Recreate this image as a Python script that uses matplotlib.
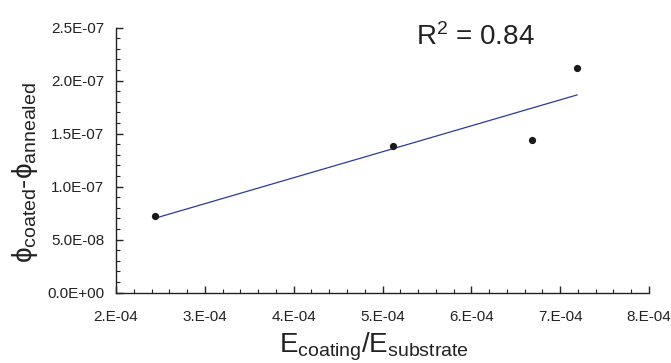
import numpy as np
import matplotlib
matplotlib.use("Agg")
import matplotlib.pyplot as plt
from matplotlib.ticker import MultipleLocator, FuncFormatter

plt.rcParams['font.family'] = ['Liberation Sans', 'DejaVu Sans']
plt.rcParams['mathtext.fontset'] = 'custom'
plt.rcParams['mathtext.rm'] = 'Liberation Sans'
plt.rcParams['mathtext.it'] = 'Liberation Sans'

# modulus ratio vs. loss angle difference
e_ratio = [2.44e-4, 5.12e-4, 6.68e-4, 7.19e-4]
phi_diff = [7.24e-8, 1.384e-7, 1.44e-7, 2.12e-7]
r2_text = "0.84"

x = np.array(e_ratio)
y = np.array(phi_diff)
slope, icept = np.polyfit(x, y, 1)

fig = plt.figure(figsize=(6.71, 3.63), dpi=100)
ax = fig.add_axes([0.1729, 0.1937, 0.7943, 0.73])

ax.plot(x, slope * x + icept, color="#2e3a9c", lw=0.9)
ax.plot(x, y, "o", color="#1a1a1a", ms=4.2)

ax.set_xlim(2e-4, 8e-4)
ax.set_ylim(0, 2.5e-7)
ax.xaxis.set_major_locator(MultipleLocator(1e-4))
ax.xaxis.set_minor_locator(MultipleLocator(2e-5))
ax.yaxis.set_major_locator(MultipleLocator(5e-8))
ax.yaxis.set_minor_locator(MultipleLocator(1e-8))
ax.xaxis.set_major_formatter(FuncFormatter(lambda v, p: f"{v:#.0E}"))
ax.yaxis.set_major_formatter(FuncFormatter(lambda v, p: f"{v:.1E}"))

for s in ["top", "right"]:
    ax.spines[s].set_visible(False)
for s in ["left", "bottom"]:
    ax.spines[s].set_color("#222222")
    ax.spines[s].set_linewidth(1.0)

ax.tick_params(which="both", direction="in", colors="#222222", labelcolor="#222222")
ax.tick_params(which="major", length=5, width=1.0, labelsize=11)
ax.tick_params(which="minor", length=3, width=0.8)
ax.tick_params(axis="y", which="major", pad=8.5)
ax.tick_params(axis="x", which="major", pad=12.5)

ax.set_xlabel(r"E$_{\mathrm{coating}}$/E$_{\mathrm{substrate}}$", fontsize=20, color="#222222")
ax.xaxis.set_label_coords(0.483, -0.143)
ax.set_ylabel(r"ϕ$_{\mathrm{coated}}$-ϕ$_{\mathrm{annealed}}$", fontsize=20, color="#222222")
ax.yaxis.set_label_coords(-0.143, 0.452)

ax.text(0.563, 0.935, "R$^{2}$ = " + r2_text, transform=ax.transAxes,
        fontsize=20, color="#222222", va="baseline", ha="left")

fig.savefig("out.png", dpi=100)
